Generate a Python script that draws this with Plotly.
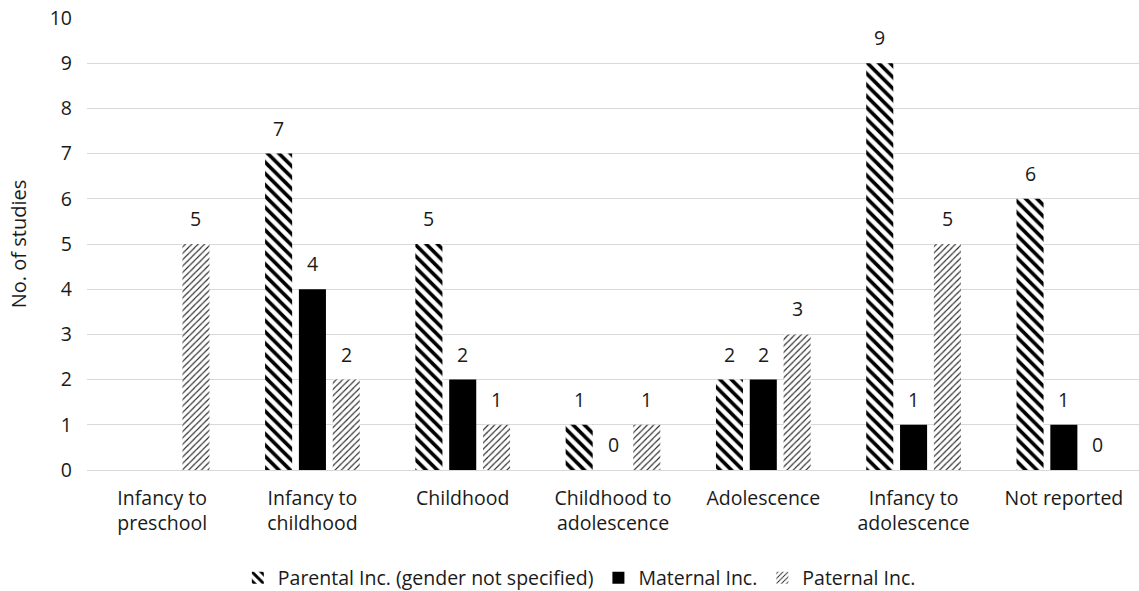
import plotly.graph_objects as go

# Age ranges covered by the studies
categories = [
    "Infancy to<br>preschool",
    "Infancy to<br>childhood",
    "Childhood",
    "Childhood to<br>adolescence",
    "Adolescence",
    "Infancy to<br>adolescence",
    "Not reported",
]

# Number of studies per involvement type (None = not plotted)
parental = [None, 7, 5, 1, 2, 9, 6]
maternal = [None, 4, 2, 0, 2, 1, 1]
paternal = [5, 2, 1, 1, 3, 5, 0]

series_names = [
    "Parental Inc. (gender not specified)",
    "Maternal Inc.",
    "Paternal Inc.",
]

FONT = "Open Sans"
TEXT_COLOR = "#1a1a1a"
FS = 19.5

fig = go.Figure()

fig.add_bar(
    x=categories, y=parental, name=series_names[0],
    marker=dict(
        color="white",
        line=dict(width=0),
        pattern=dict(shape="\\", fgcolor="black", bgcolor="white",
                     fgopacity=1, size=8, solidity=0.45, fillmode="replace"),
    ),
)
fig.add_bar(
    x=categories, y=maternal, name=series_names[1],
    marker=dict(color="black", line=dict(width=0)),
)
fig.add_bar(
    x=categories, y=paternal, name=series_names[2],
    marker=dict(
        color="white",
        line=dict(width=0),
        pattern=dict(shape="/", fgcolor="#222222", bgcolor="white",
                     fgopacity=1, size=4.5, solidity=0.25, fillmode="replace"),
    ),
)

# Value labels above each bar
slot_px = 33.8
annotations = []
for offset, values in zip((-1, 0, 1), (parental, maternal, paternal)):
    for cat, v in zip(categories, values):
        if v is None:
            continue
        annotations.append(dict(
            x=cat, y=v, xref="x", yref="y", text=str(v),
            showarrow=False, yanchor="bottom", xanchor="center",
            xshift=offset * slot_px, yshift=10,
            font=dict(family=FONT, size=FS, color=TEXT_COLOR),
        ))

fig.update_layout(
    width=1139, height=591,
    margin=dict(l=87, r=0, t=18, b=121, autoexpand=False),
    paper_bgcolor="white", plot_bgcolor="white",
    barmode="group", bargap=0.325, bargroupgap=0.2,
    font=dict(family=FONT, size=FS, color=TEXT_COLOR),
    showlegend=True,
    legend=dict(
        orientation="h", x=0.468, xanchor="center",
        y=-0.239, yanchor="middle",
        font=dict(family=FONT, size=FS, color=TEXT_COLOR),
        itemwidth=30, traceorder="normal",
    ),
    annotations=annotations,
)

fig.update_xaxes(
    showgrid=False, showline=False, zeroline=False,
    ticks="", ticklabelstandoff=14, automargin=False,
    tickfont=dict(family=FONT, size=FS, color=TEXT_COLOR),
)
fig.update_yaxes(
    range=[0, 10], dtick=1, tick0=0,
    showgrid=True, gridcolor="#d9d9d9", gridwidth=1,
    zeroline=True, zerolinecolor="#d9d9d9", zerolinewidth=1,
    showline=False, ticks="", ticklabelstandoff=14, automargin=False,
    tickfont=dict(family=FONT, size=FS, color=TEXT_COLOR),
    title=dict(text="No. of studies", standoff=17,
               font=dict(family=FONT, size=20, color=TEXT_COLOR)),
)

fig.write_html("out.html")
